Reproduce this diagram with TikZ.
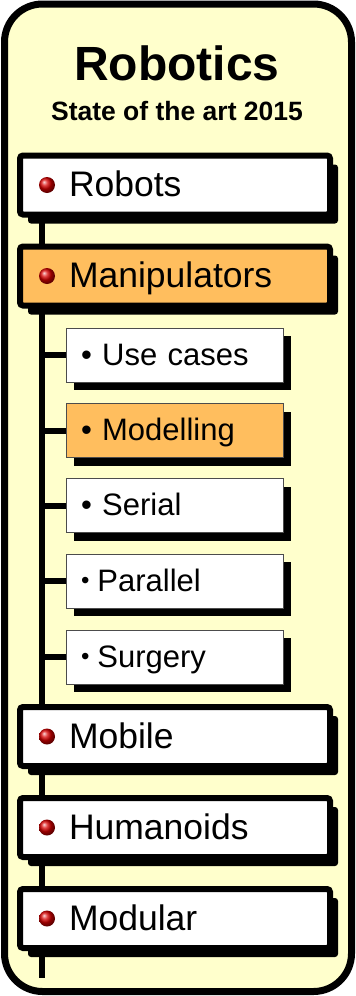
\documentclass[tikz,border=0pt]{standalone}
\usepackage{fontspec}
\setmainfont{Liberation Sans}
\usepackage{tikz}
\usetikzlibrary{shadows,backgrounds}
\definecolor{paleyellow}{RGB}{255,255,204}
\definecolor{hiliteorange}{RGB}{255,190,94}
\newcommand{\smalldot}{\raisebox{2.5pt}{\fontsize{24}{24}\selectfont•}\hspace{8pt}}

\begin{document}
\begin{tikzpicture}[
    x=1pt, y=-1pt,
    frame/.style={draw=black, line width=7pt, fill=paleyellow, rounded corners=38pt},
    mainbox/.style={
        rectangle, draw=black, line width=6pt, fill=white, rounded corners=3pt,
        minimum width=310pt, minimum height=59pt, inner xsep=49pt, text width=212pt, align=left,
        text height=24pt, text depth=0.5pt, font=\fontsize{35.5}{40}\selectfont,
        drop shadow={shadow xshift=8pt, shadow yshift=-9pt, opacity=1, fill=black}},
    subbox/.style={
        rectangle, draw=black!70, line width=1pt, fill=white,
        minimum width=217pt, minimum height=54pt, inner xsep=15pt, text width=187pt, align=left,
        text height=21pt, text depth=1pt, font=\fontsize{31}{34}\selectfont,
        drop shadow={shadow xshift=8pt, shadow yshift=-8pt, opacity=1, fill=black}},
    hilite/.style={fill=hiliteorange},
    trunk/.style={draw=black, line width=6pt}]
\useasboundingbox (0,0) rectangle (356,996);

\node[font=\bfseries\fontsize{48}{52}\selectfont, anchor=base] (title) at (177,80) {Robotics};
\node[font=\bfseries\fontsize{26.5}{28}\selectfont, anchor=base] (subtitle) at (177,120) {State of the art 2015};

% main topics
\node[mainbox] (robots)    at (175,185)   {Robots};
\node[mainbox, hilite] (manip) at (175,276) {Manipulators};
\node[mainbox] (mobile)    at (175,736.5) {Mobile};
\node[mainbox] (humanoids) at (175,827.5) {Humanoids};
\node[mainbox] (modular)   at (175,918.5) {Modular};

% manipulator sub topics
\node[subbox] (usecases)  at (174.5,355)   {• Use cases};
\node[subbox, hilite] (modelling) at (174.5,430.5) {• Modelling};
\node[subbox] (serial)    at (174.5,505.5) {• Serial};
\node[subbox] (parallel)  at (174.5,581)   {\smalldot Parallel};
\node[subbox] (surgery)   at (174.5,657)   {\smalldot Surgery};

\foreach \n in {robots,manip,mobile,humanoids,modular}
    \shade[ball color=red!85!black] ([xshift=30pt]\n.west) circle (8pt);

\coordinate (trunktop) at (42,185);
\coordinate (trunkend) at (42,978);

\begin{scope}[on background layer]
\draw[frame] (4.5,4) rectangle (351.5,991.5);
\draw[trunk] (trunktop) -- (trunkend);
\foreach \n in {usecases,modelling,serial,parallel,surgery}
    \draw[trunk] (\n.west -| trunktop) -- (\n.west);
\end{scope}

\end{tikzpicture}
\end{document}
